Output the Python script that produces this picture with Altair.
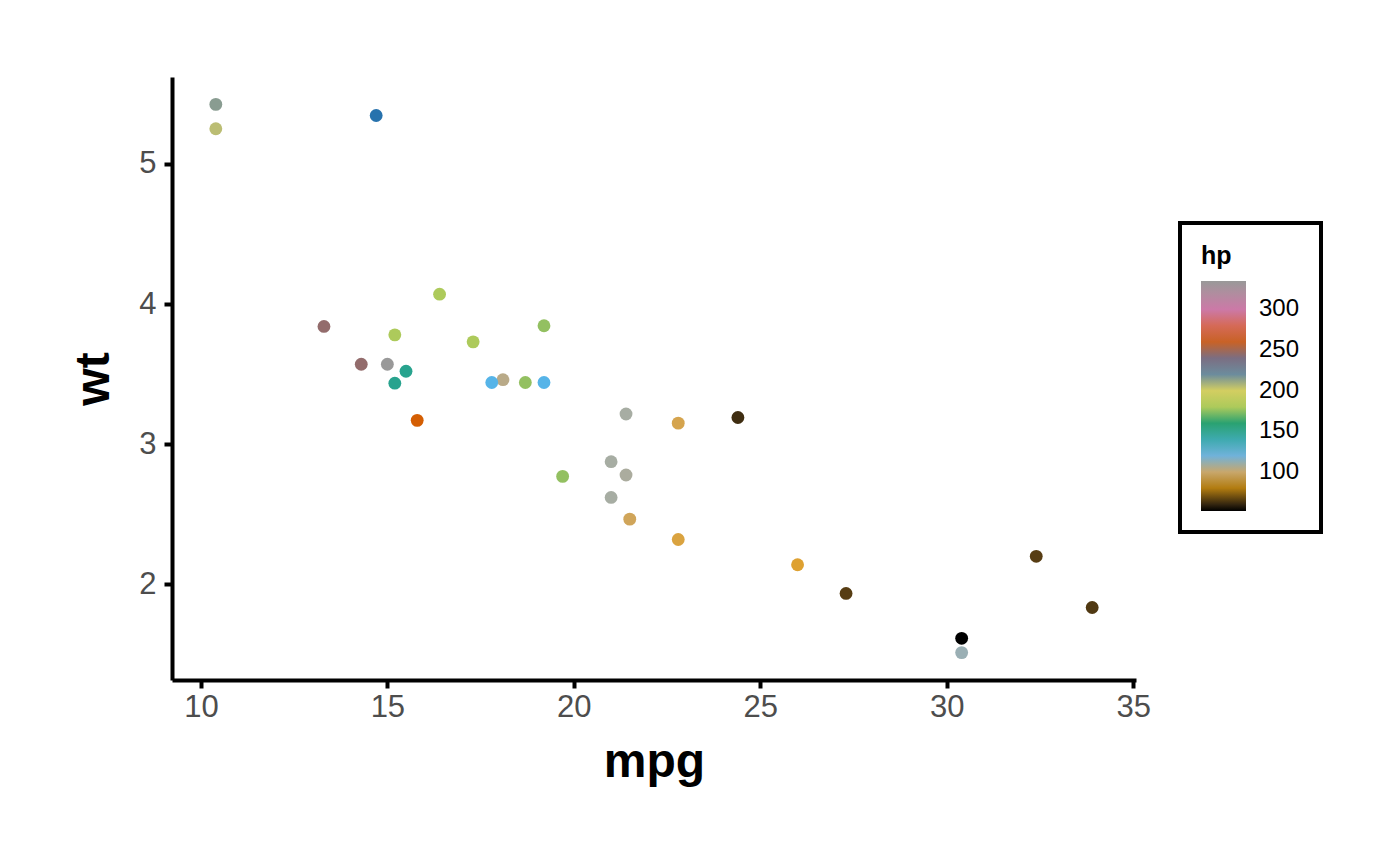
import altair as alt
import pandas as pd

# mtcars: mpg, wt, hp
mpg = [21.0, 21.0, 22.8, 21.4, 18.7, 18.1, 14.3, 24.4, 22.8, 19.2, 17.8,
       16.4, 17.3, 15.2, 10.4, 10.4, 14.7, 32.4, 30.4, 33.9, 21.5, 15.5,
       15.2, 13.3, 19.2, 27.3, 26.0, 30.4, 15.8, 19.7, 15.0, 21.4]
wt = [2.620, 2.875, 2.320, 3.215, 3.440, 3.460, 3.570, 3.190, 3.150, 3.440,
      3.440, 4.070, 3.730, 3.780, 5.250, 5.424, 5.345, 2.200, 1.615, 1.835,
      2.465, 3.520, 3.435, 3.840, 3.845, 1.935, 2.140, 1.513, 3.170, 2.770,
      3.570, 2.780]
hp = [110, 110, 93, 110, 175, 105, 245, 62, 95, 123, 123, 180, 180, 180,
      205, 215, 230, 66, 52, 65, 97, 150, 150, 245, 175, 66, 91, 113, 264,
      175, 335, 109]

# Okabe-Ito stops spread evenly over the hp range
palette = ["#000000", "#E69F00", "#56B4E9", "#009E73", "#F0E442",
           "#0072B2", "#D55E00", "#CC79A7", "#999999"]
stops = [52, 87.375, 122.75, 158.125, 193.5, 228.875, 264.25, 299.625, 335]
legend_ticks = [100, 150, 200, 250, 300]

df = pd.DataFrame({"mpg": mpg, "wt": wt, "hp": hp})

FONT = "Liberation Sans"

points = alt.Chart(df).mark_circle(size=165, opacity=1).encode(
    x=alt.X(
        "mpg:Q",
        title="mpg",
        scale=alt.Scale(domain=[9.225, 35.075], nice=False, zero=False),
        axis=alt.Axis(values=[10, 15, 20, 25, 30, 35], titlePadding=16,
                      labelPadding=4),
    ),
    y=alt.Y(
        "wt:Q",
        title="wt",
        scale=alt.Scale(domain=[1.3175, 5.6195], nice=False, zero=False),
        axis=alt.Axis(values=[2, 3, 4, 5], titlePadding=20, labelPadding=8),
    ),
    color=alt.Color(
        "hp:Q",
        title="hp",
        scale=alt.Scale(domain=stops, range=palette, interpolate="lab"),
        legend=alt.Legend(
            orient="none",
            legendX=1008,
            legendY=146,
            values=legend_ticks,
            gradientLength=230,
            gradientThickness=45,
            gradientStrokeWidth=0,
            titleFontSize=25,
            titleFont=FONT,
            titleFontWeight="bold",
            titleColor="black",
            titlePadding=12,
            labelFontSize=24,
            labelFont=FONT,
            labelColor="black",
            labelOffset=13,
            padding=21,
            strokeColor="black",
        ),
    ),
)

chart = points.properties(
    width=964,
    height=603,
    autosize=alt.AutoSizeParams(type="none"),
    padding={"left": 164, "top": 69, "right": 240, "bottom": 150},
).configure_view(
    stroke=None
).configure_legend(
    strokeWidth=4,
).configure_axis(
    grid=False,
    domainColor="black",
    domainWidth=4,
    tickColor="black",
    tickWidth=4,
    tickSize=8,
    labelFont=FONT,
    labelFontSize=31,
    labelColor="#4D4D4D",
    titleFont=FONT,
    titleFontSize=48,
    titleFontWeight="bold",
    titleColor="black",
)

chart.save("out.html", embed_options={"renderer": "svg", "actions": False})
